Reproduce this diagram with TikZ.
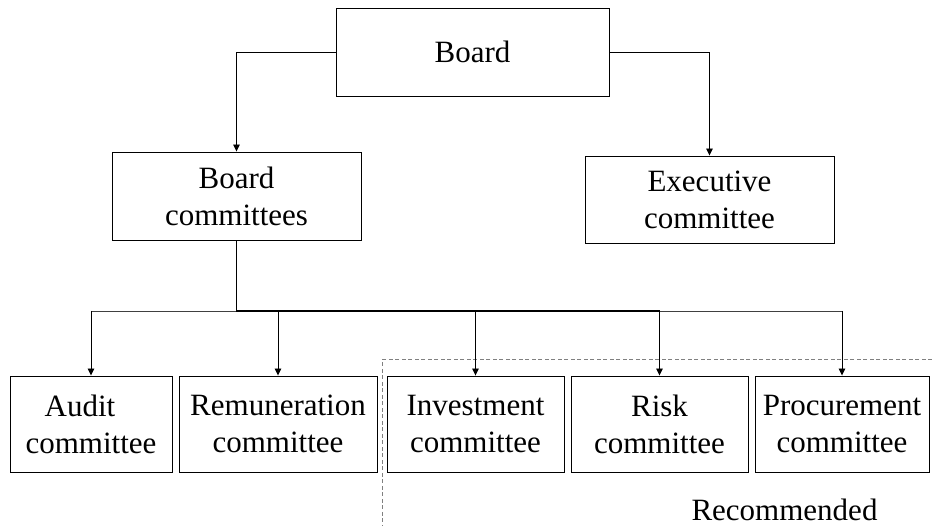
\documentclass[tikz,border=0pt]{standalone}
\usepackage{fontspec}
\setmainfont{Liberation Serif}
\usetikzlibrary{arrows.meta}
\begin{document}
\begin{tikzpicture}[x=1pt,y=-1pt,
  box/.style={draw=black,line width=0.9pt,rectangle,inner sep=0pt,align=center,
    font=\fontsize{31}{37}\selectfont},
  arr/.style={line width=0.9pt,-{Triangle[length=7pt,width=6.5pt]}},
  busthin/.style={line width=0.9pt,draw=black!75},
  busthick/.style={line width=1.8pt,line cap=rect},
  recdash/.style={draw=black!50,line width=1pt,dash pattern=on 4pt off 2.5pt},
  lbl/.style={font=\fontsize{31}{37}\selectfont,inner sep=0pt}]
\useasboundingbox (0,0) rectangle (932,526);
% boxes
\node[box,minimum width=273pt,minimum height=88pt] (board) at (472.5,52) {Board};
\node[box,minimum width=249pt,minimum height=88pt] (bc) at (236.5,196) {Board\\committees};
\node[box,minimum width=249pt,minimum height=87pt] (exec) at (709.5,199.5) {Executive\\committee};
\node[box,minimum width=162pt,minimum height=96pt] (audit) at (91,424) {Audit\hspace*{22pt}\\committee};
\node[box,minimum width=198pt,minimum height=96pt] (rem) at (278,424) {Remuneration\\committee};
\node[box,minimum width=177pt,minimum height=96pt] (inv) at (475.5,424) {Investment\\committee};
\node[box,minimum width=177pt,minimum height=96pt] (risk) at (659.5,424) {Risk\\committee};
\node[box,minimum width=174pt,minimum height=96pt] (proc) at (842,424) {Procurement\\committee};
% recommended region
\coordinate (dr) at (932,360);
\coordinate (dc) at (382,360);
\coordinate (db) at (382,526);
\draw[recdash] (dr) -- (dc) -- (db);
\node[lbl,anchor=base] (rec) at (784.5,520) {Recommended};
% top connectors
\draw[arr] (board.west) -| (bc.north);
\draw[arr] (board.east) -| (exec.north);
% bus
\coordinate (bus) at (0,311);
\draw[busthin] (audit.north |- bus) -- (proc.north |- bus);
\draw[busthick] (bc.south) -- (bc.south |- bus) -- (risk.north |- bus);
\foreach \n in {audit,rem,inv,risk,proc}
  \draw[arr] (\n.north |- bus) -- (\n.north);
\end{tikzpicture}
\end{document}
